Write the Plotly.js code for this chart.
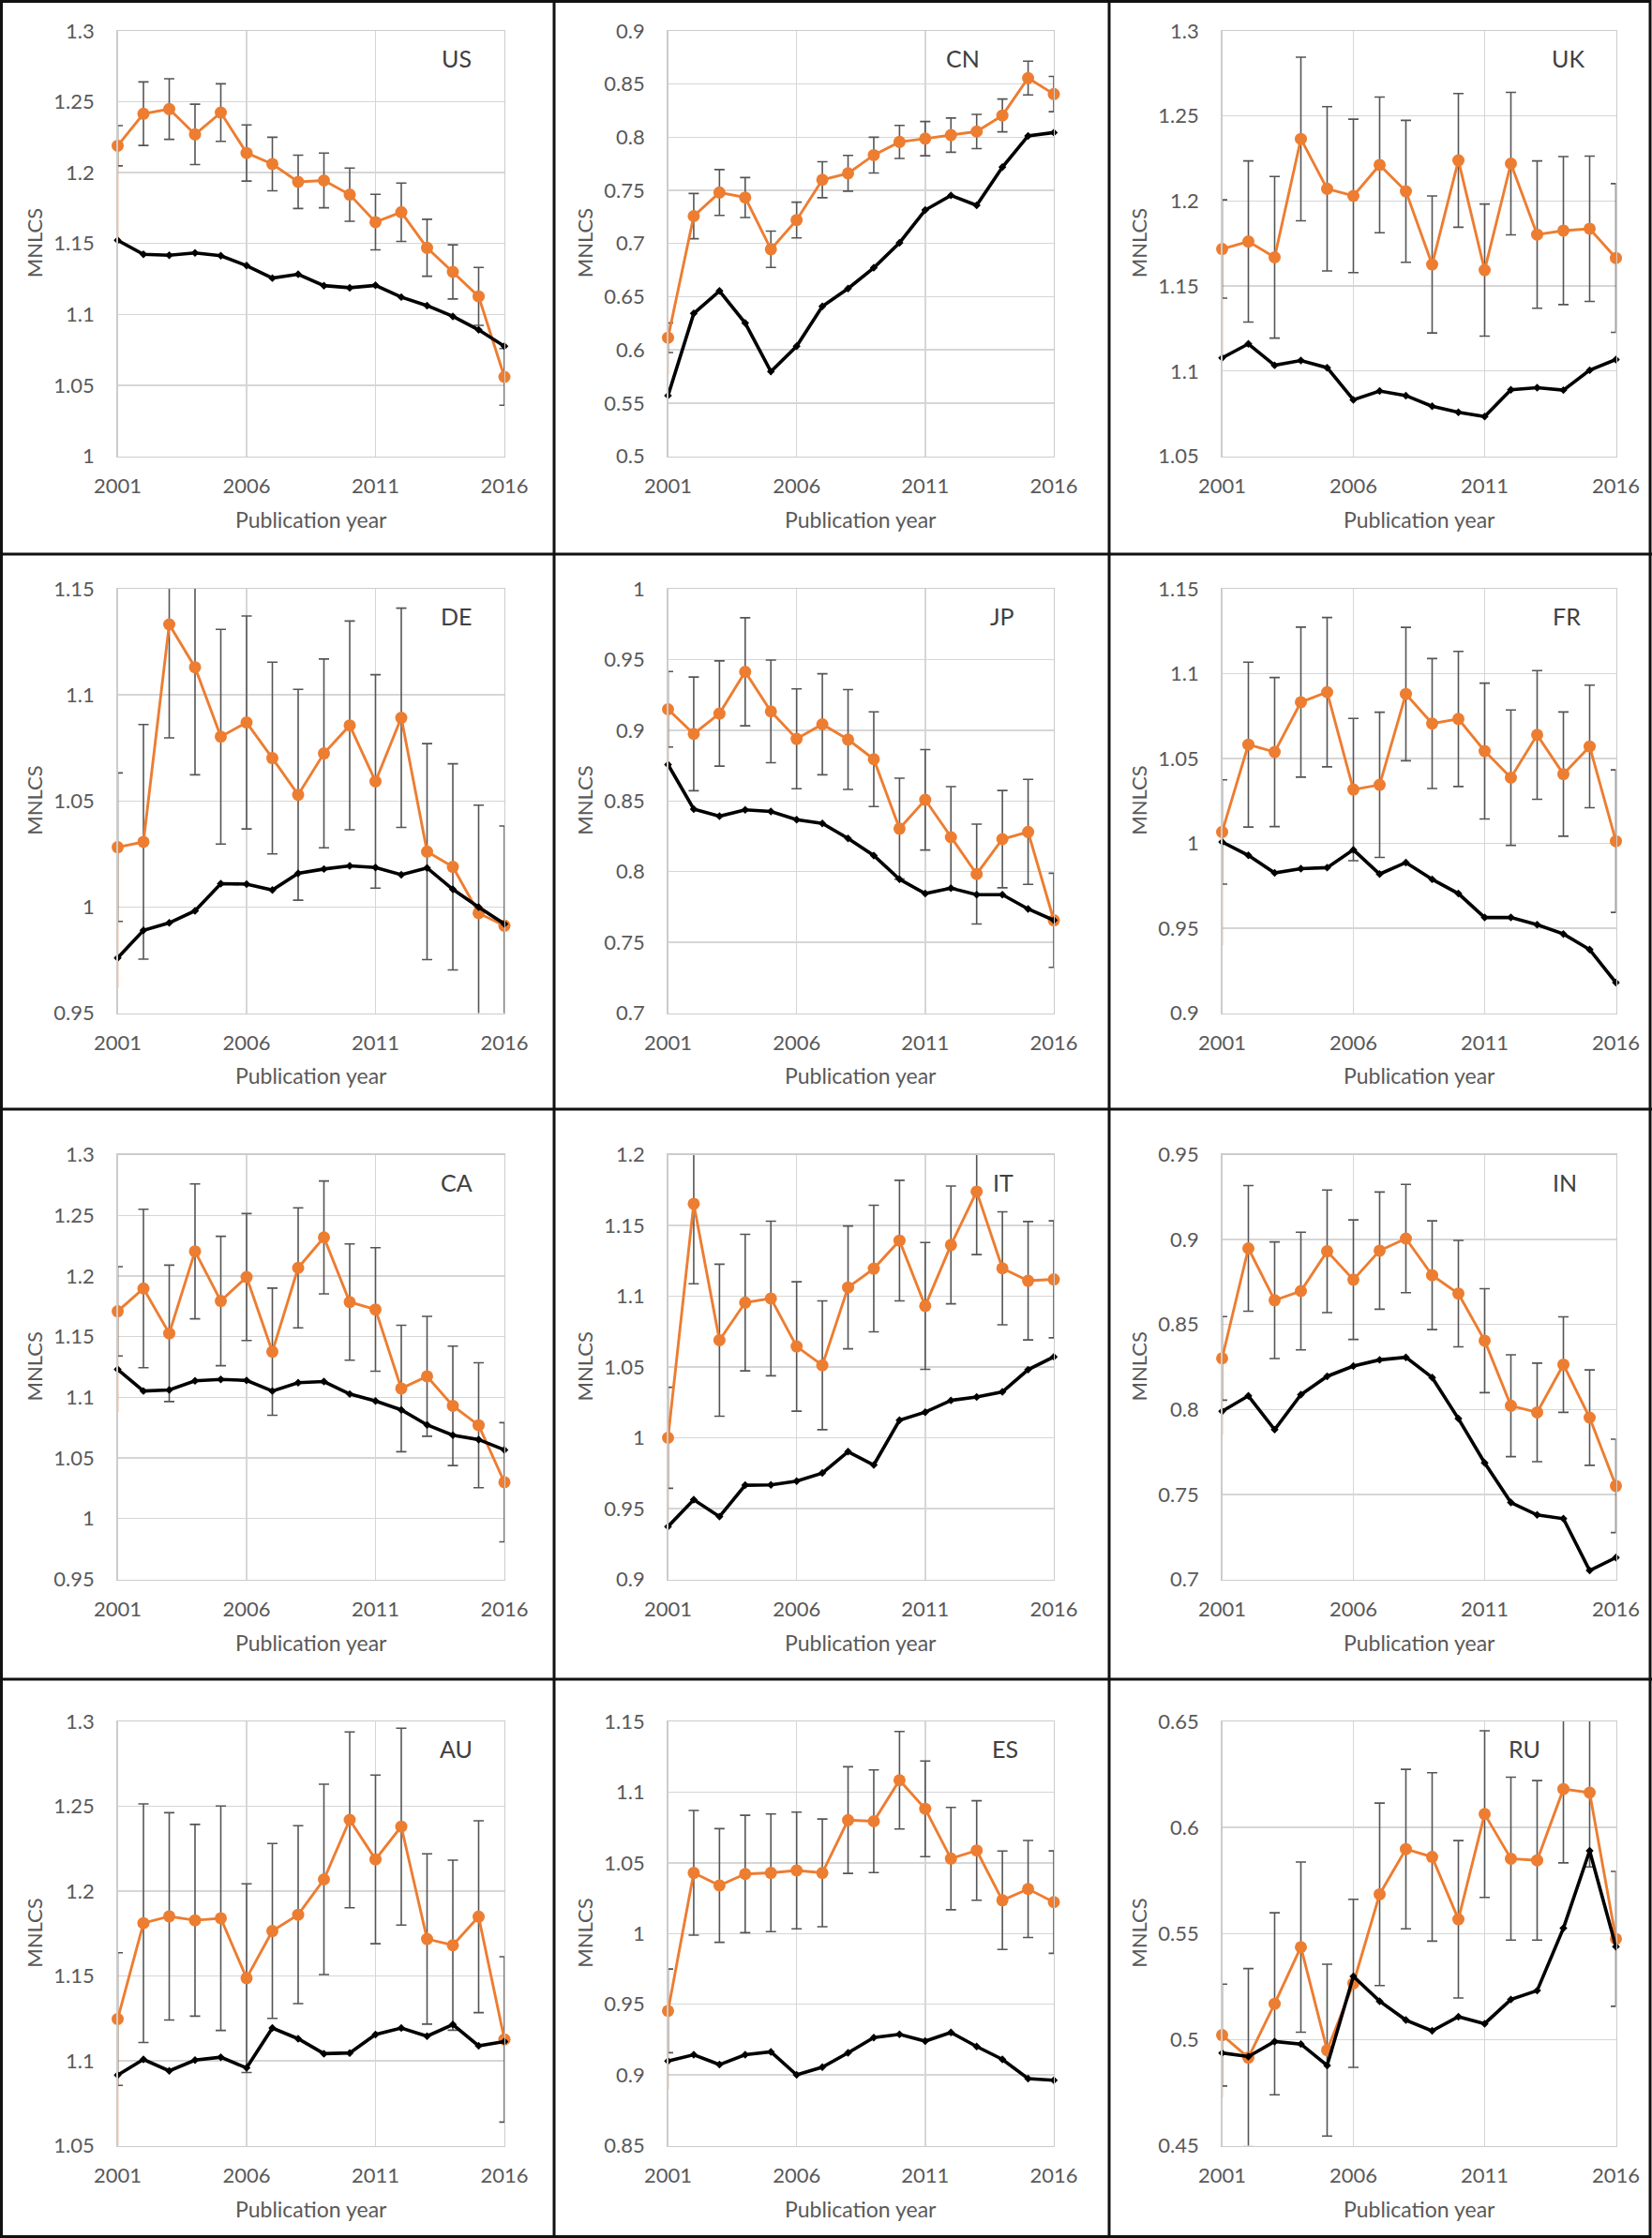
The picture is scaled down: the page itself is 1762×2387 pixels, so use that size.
<!DOCTYPE html>
<html><head><meta charset="utf-8">
<script src="https://cdn.plot.ly/plotly-3.0.1.min.js"></script>
<style>html,body{margin:0;padding:0;background:#fff;} #chart{width:1762px;height:2387px;}</style>
</head><body><div id="chart"></div>
<script>
// ---------- DATA ----------
const years = [2001,2002,2003,2004,2005,2006,2007,2008,2009,2010,2011,2012,2013,2014,2015,2016];
const yearTicks = [2001, 2006, 2011, 2016];
const countries = ['US','CN','UK','DE','JP','FR','CA','IT','IN','AU','ES','RU'];
const yMin = [1.0, 0.5, 1.05, 0.95, 0.7, 0.9, 0.95, 0.9, 0.7, 1.05, 0.85, 0.45];
const yMax = [1.3, 0.9, 1.3, 1.15, 1.0, 1.15, 1.3, 1.2, 0.95, 1.3, 1.15, 0.65];

const orangeUS = [1.219,1.2416,1.2449,1.227,1.2424,1.2139,1.2061,1.1935,1.1945,1.1845,1.1651,1.1721,1.147,1.130,1.1127,1.0559];
const errUS    = [0.0142,0.0224,0.0214,0.0213,0.0203,0.0198,0.0189,0.0188,0.0193,0.0188,0.0196,0.0206,0.0201,0.0191,0.0204,0.020];
const blackUS  = [1.1523,1.1424,1.1417,1.1434,1.1414,1.1344,1.1256,1.1283,1.1203,1.1188,1.1205,1.1122,1.1062,1.0986,1.0891,1.0775];

const orangeCN = [0.6114,0.7258,0.748,0.7433,0.6946,0.7221,0.760,0.7661,0.7832,0.7956,0.7987,0.802,0.8054,0.8205,0.8557,0.8406];
const errCN    = [0.014,0.0213,0.0216,0.0188,0.0171,0.0168,0.0169,0.0168,0.0168,0.0156,0.0161,0.0161,0.0161,0.0154,0.0159,0.0166];
const blackCN  = [0.557,0.6342,0.6554,0.6252,0.5795,0.6034,0.6409,0.6577,0.6772,0.7007,0.7315,0.7453,0.7359,0.7718,0.8013,0.8044];

const orangeUK = [1.1718,1.1762,1.1669,1.2365,1.2072,1.203,1.2212,1.2057,1.1627,1.2239,1.1594,1.222,1.1803,1.1826,1.1837,1.1665];
const errUK    = [0.0289,0.0474,0.0475,0.0481,0.0483,0.0451,0.0399,0.0417,0.0403,0.0393,0.0388,0.0419,0.0433,0.0435,0.0427,0.0437];
const blackUK  = [1.1078,1.116,1.1034,1.1062,1.102,1.0831,1.0883,1.0856,1.0793,1.0758,1.0733,1.089,1.0902,1.0888,1.1005,1.1068];

const orangeDE = [1.0282,1.0307,1.1332,1.113,1.0803,1.087,1.0702,1.0529,1.0724,1.0856,1.0592,1.0892,1.0261,1.0189,0.9971,0.9912];
const errDE    = [0.035,0.0553,0.0535,0.0507,0.0506,0.0502,0.0452,0.0497,0.0445,0.0492,0.0503,0.0517,0.0509,0.0486,0.0509,0.047];
const blackDE  = [0.976,0.989,0.9925,0.9982,1.011,1.0108,1.008,1.0159,1.0179,1.0194,1.0186,1.0152,1.0184,1.0083,0.9999,0.992];

const orangeJP = [0.9148,0.8974,0.9118,0.9413,0.9133,0.8939,0.9042,0.8934,0.8795,0.8304,0.8508,0.8243,0.7983,0.823,0.8281,0.7656];
const errJP    = [0.0267,0.0402,0.0372,0.0382,0.0363,0.0353,0.0357,0.0353,0.0335,0.0357,0.0355,0.0358,0.0353,0.0344,0.0371,0.0333];
const blackJP  = [0.8757,0.8442,0.8392,0.8437,0.8425,0.8367,0.8341,0.8235,0.8114,0.7946,0.7845,0.7883,0.7837,0.7837,0.7736,0.7656];

const orangeFR = [1.0067,1.0582,1.0538,1.0832,1.0891,1.0317,1.0345,1.088,1.0706,1.0733,1.0544,1.0387,1.0639,1.0408,1.0571,1.0013];
const errFR    = [0.0307,0.0486,0.0439,0.0442,0.044,0.0419,0.0428,0.0393,0.0383,0.0398,0.04,0.0399,0.0379,0.0366,0.0361,0.042];
const blackFR  = [1.0008,0.9929,0.9826,0.9851,0.9857,0.9962,0.9819,0.9887,0.9788,0.9704,0.9563,0.9563,0.9521,0.9466,0.9374,0.9179];

const orangeCA = [1.1709,1.1897,1.1527,1.2203,1.1794,1.1991,1.1376,1.2067,1.2318,1.1785,1.1724,1.1073,1.1173,1.093,1.077,1.03];
const errCA    = [0.0368,0.0653,0.0562,0.0556,0.0533,0.0523,0.0524,0.0494,0.0465,0.0479,0.0509,0.0521,0.0494,0.0492,0.0515,0.0491];
const blackCA  = [1.123,1.1052,1.1061,1.1136,1.1148,1.1139,1.1052,1.1121,1.113,1.1027,1.097,1.0897,1.0773,1.0688,1.0652,1.0567];

const orangeIT = [1.0,1.1653,1.0689,1.0955,1.0984,1.0645,1.0512,1.1062,1.1195,1.1393,1.0931,1.1362,1.1739,1.1197,1.1109,1.1119];
const errIT    = [0.0357,0.0565,0.0537,0.0482,0.0546,0.0457,0.0455,0.0434,0.0447,0.0426,0.0448,0.0416,0.0445,0.0399,0.0418,0.0413];
const blackIT  = [0.9373,0.9563,0.9443,0.9665,0.9667,0.9694,0.9751,0.9902,0.9808,1.0124,1.0181,1.0264,1.0288,1.0324,1.0481,1.0572];

const orangeIN = [0.8301,0.8948,0.8643,0.8697,0.8931,0.8764,0.8935,0.9006,0.879,0.8682,0.8405,0.8022,0.7983,0.8264,0.7952,0.755];
const errIN    = [0.0246,0.037,0.0343,0.0346,0.0361,0.0352,0.0345,0.0319,0.032,0.0313,0.0306,0.03,0.029,0.0281,0.0281,0.0275];
const blackIN  = [0.7989,0.808,0.7881,0.8087,0.8195,0.8255,0.8292,0.8307,0.8188,0.7946,0.7686,0.7452,0.7379,0.7357,0.7052,0.7128];

const orangeAU = [1.1246,1.1811,1.1851,1.1828,1.184,1.1487,1.1765,1.1861,1.2069,1.242,1.2187,1.238,1.1718,1.1681,1.1849,1.1126];
const errAU    = [0.0391,0.0703,0.0611,0.0565,0.0661,0.0556,0.0515,0.0524,0.0561,0.0518,0.0497,0.058,0.0502,0.0501,0.0565,0.0487];
const blackAU  = [1.0916,1.1008,1.0941,1.1004,1.1021,1.0958,1.1193,1.113,1.1042,1.1046,1.1155,1.1193,1.1145,1.1214,1.1088,1.1113];

const orangeES = [0.9453,1.0429,1.034,1.0421,1.0429,1.0446,1.0429,1.0802,1.0794,1.1084,1.0882,1.053,1.0587,1.0235,1.0315,1.0222];
const errES    = [0.0296,0.0441,0.0402,0.0415,0.0416,0.0413,0.0381,0.0377,0.0363,0.0345,0.0338,0.0362,0.0352,0.0348,0.0343,0.0362];
const blackES  = [0.9098,0.9143,0.9073,0.9143,0.9163,0.9,0.9055,0.9156,0.9264,0.9287,0.9239,0.93,0.9201,0.911,0.8974,0.8962];

const orangeRU = [0.5021,0.4915,0.5169,0.5436,0.495,0.5265,0.5685,0.5898,0.5861,0.5567,0.6063,0.5853,0.5845,0.6181,0.6164,0.5475];
const errRU    = [0.024,0.042,0.0429,0.0401,0.0405,0.0396,0.043,0.0376,0.0397,0.0371,0.0393,0.0384,0.0376,0.0348,0.035,0.0318];
const blackRU  = [0.4937,0.492,0.4991,0.4979,0.4878,0.5298,0.5181,0.5092,0.5041,0.5108,0.5075,0.5189,0.5231,0.5525,0.589,0.5438];

// faint orange lead-in stroke below the first orange point (as seen in the picture)
const leadIn = [1.152, 0.577, 1.108, 0.962, 0.876, 0.94, 1.088, 0.94, 0.785, 1.05, 0.89, 0.473];

const orangeAll = [orangeUS,orangeCN,orangeUK,orangeDE,orangeJP,orangeFR,orangeCA,orangeIT,orangeIN,orangeAU,orangeES,orangeRU];
const errAll    = [errUS,errCN,errUK,errDE,errJP,errFR,errCA,errIT,errIN,errAU,errES,errRU];
const blackAll  = [blackUS,blackCN,blackUK,blackDE,blackJP,blackFR,blackCA,blackIT,blackIN,blackAU,blackES,blackRU];

// ---------- LAYOUT GEOMETRY (pixels) ----------
const W = 1762, H = 2387;
const colL = [125.5, 712.5, 1303.5], colR = [538, 1124, 1723.5];
const rowT = [33, 628, 1231.5, 1836], rowB = [486.5, 1080.5, 1684.5, 2288.5];
const labelDx = [51, 97, 51, 51, 55, 53, 51, 54, 55, 51, 52, 98];
const ORANGE = '#ED7D31';
const FONT = 'Lato, "Open Sans", "DejaVu Sans", sans-serif';
const px = x => x / W, py = y => 1 - y / H;

const traces = [];
const layout = {
  width: W, height: H, margin: {l:0, r:0, t:0, b:0},
  paper_bgcolor: '#fff', plot_bgcolor: '#fff', showlegend: false,
  font: {family: FONT, color: '#595959'},
  annotations: [], shapes: []
};

countries.forEach((c, i) => {
  const col = i % 3, row = Math.floor(i / 3);
  const k = i === 0 ? '' : String(i + 1);
  const xa = 'x' + k, ya = 'y' + k;
  const l = colL[col], r = colR[col], t = rowT[row], b = rowB[row];

  layout['xaxis' + k] = {
    domain: [px(l), px(r)], anchor: ya, range: [years[0], years[years.length - 1]],
    tickmode: 'array', tickvals: yearTicks,
    showgrid: true, gridcolor: '#d6d6d6', gridwidth: 1.4,
    showline: true, linecolor: '#cccccc', linewidth: 1.4, mirror: true,
    zeroline: false, ticks: '', ticklabelstandoff: 12,
    tickfont: {family: FONT, size: 22, color: '#595959'}, fixedrange: true
  };
  layout['yaxis' + k] = {
    domain: [py(b), py(t)], anchor: xa, range: [yMin[i], yMax[i]],
    tick0: 0, dtick: 0.05,
    showgrid: true, gridcolor: '#d6d6d6', gridwidth: 1.4,
    showline: true, linecolor: '#cccccc', linewidth: 1.4, mirror: true,
    zeroline: false, ticks: '', ticklabelstandoff: 19,
    tickfont: {family: FONT, size: 22, color: '#595959'}, fixedrange: true
  };

  const o = orangeAll[i], e = errAll[i], bl = blackAll[i];
  traces.push({
    x: [years[0], years[0]], y: [o[0], leadIn[i]], xaxis: xa, yaxis: ya,
    mode: 'lines', line: {color: ORANGE, width: 1.6}, opacity: 0.8,
    hoverinfo: 'skip', cliponaxis: true
  });
  traces.push({
    x: years, y: o, xaxis: xa, yaxis: ya, mode: 'markers',
    marker: {size: 2, opacity: 0},
    error_y: {type: 'data', array: e, visible: true, color: '#555555', thickness: 1.6, width: 5.5},
    hoverinfo: 'skip', cliponaxis: true
  });
  traces.push({
    x: years, y: o, xaxis: xa, yaxis: ya, mode: 'lines+markers',
    line: {color: ORANGE, width: 2.9},
    marker: {size: 13, color: ORANGE},
    cliponaxis: false
  });
  traces.push({
    x: years, y: bl, xaxis: xa, yaxis: ya, mode: 'lines+markers',
    line: {color: '#000000', width: 3.6},
    marker: {size: 6.5, color: '#000000', symbol: 'diamond'},
    cliponaxis: false
  });

  layout.annotations.push({
    xref: 'paper', yref: 'paper', x: px(l - 89), y: py((t + b) / 2),
    text: 'MNLCS', textangle: -90, showarrow: false,
    xanchor: 'center', yanchor: 'middle',
    font: {family: FONT, size: 22, color: '#595959'}
  });
  layout.annotations.push({
    xref: 'paper', yref: 'paper', x: px((l + r) / 2), y: py(b + 67),
    text: 'Publication year', showarrow: false,
    xanchor: 'center', yanchor: 'middle',
    font: {family: FONT, size: 23, color: '#595959'}
  });
  layout.annotations.push({
    xref: 'paper', yref: 'paper', x: px(r - labelDx[i]), y: py(t + 29),
    text: c, showarrow: false, xanchor: 'center', yanchor: 'middle',
    font: {family: FONT, size: 25, color: '#404040'}
  });
});

// panel borders
const bw = 3;
layout.shapes.push({type: 'rect', xref: 'paper', yref: 'paper',
  x0: px(1.5), x1: px(1760), y0: py(1.5), y1: py(2385.5),
  line: {color: '#111', width: bw}});
[591, 1183].forEach(x => layout.shapes.push({type: 'line', xref: 'paper', yref: 'paper',
  x0: px(x), x1: px(x), y0: py(0), y1: py(H), line: {color: '#111', width: bw}}));
[591, 1183, 1791].forEach(y => layout.shapes.push({type: 'line', xref: 'paper', yref: 'paper',
  x0: px(0), x1: px(W), y0: py(y), y1: py(y), line: {color: '#111', width: bw}}));

Plotly.newPlot('chart', traces, layout, {staticPlot: true, displayModeBar: false});
</script>
</body></html>
